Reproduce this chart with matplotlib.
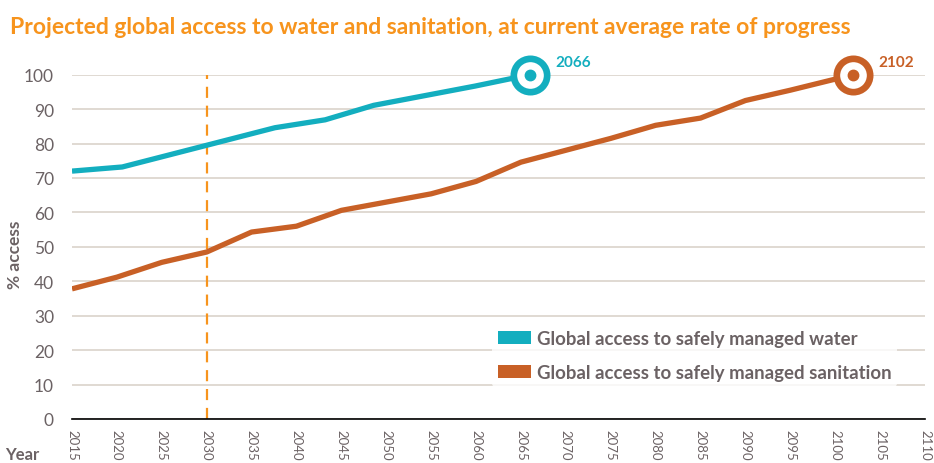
import matplotlib
matplotlib.use("Agg")
import matplotlib.pyplot as plt
from matplotlib.patches import Patch

plt.rcParams['font.family'] = ['Lato', 'DejaVu Sans']

title = "Projected global access to water and sanitation, at current average rate of progress"
water_years = [2015, 2020.6, 2037.6, 2043.2, 2048.6, 2059.9, 2066]
water_vals = [72.0, 73.2, 84.6, 86.9, 91.1, 96.7, 100]
san_years = [2015, 2020, 2025, 2030, 2035, 2040, 2045, 2055, 2060, 2065, 2075, 2080, 2085, 2090, 2095, 2102]
san_vals = [37.8, 41.2, 45.5, 48.5, 54.3, 56.0, 60.6, 65.4, 69.0, 74.6, 81.5, 85.3, 87.4, 92.5, 95.5, 100]
water_end, san_end = 2066, 2102
target_year = 2030
xticks = list(range(2015, 2111, 5))
yticks = list(range(0, 101, 10))
legend_labels = ["Global access to safely managed water", "Global access to safely managed sanitation"]

TEAL = "#13AEBF"
RUST = "#C86026"
ORANGE = "#F7941D"
GRAY = "#6B6264"
GRID = "#DDD7CF"

fig = plt.figure(figsize=(9.34, 4.64), dpi=100)
ax = fig.add_axes([72/934, 1-420/464, (925-72)/934, (420-75.7)/464])
ax.set_xlim(2015, 2110)
ax.set_ylim(0, 100)
for s in ['top', 'right', 'left']:
    ax.spines[s].set_visible(False)
ax.spines['bottom'].set_color('black')
ax.spines['bottom'].set_linewidth(1.2)
ax.set_yticks(yticks)
ax.set_xticks(xticks)
ax.set_xticklabels([str(t) for t in xticks], rotation=270, fontsize=9.5, color=GRAY)
ax.set_yticklabels([str(t) for t in yticks], fontsize=12.5, color=GRAY)
ax.tick_params(axis='both', length=0)
ax.tick_params(axis='y', pad=13)
ax.tick_params(axis='x', pad=7)
ax.yaxis.grid(True, color=GRID, linewidth=1.3)
ax.set_axisbelow(True)

ax.axvline(target_year, color=ORANGE, linewidth=1.6, linestyle=(0, (5, 3.5)), zorder=2)

ax.plot(water_years, water_vals, color=TEAL, linewidth=3.8, solid_capstyle='butt', zorder=3)
ax.plot(san_years, san_vals, color=RUST, linewidth=3.8, solid_capstyle='butt', zorder=3)

for yr, col in [(water_end, TEAL), (san_end, RUST)]:
    ax.plot([yr], [100], marker='o', markersize=24, markerfacecolor='white',
            markeredgecolor=col, markeredgewidth=4.8, clip_on=False, zorder=4)
    ax.plot([yr], [100], marker='o', markersize=7.5, color=col, clip_on=False, zorder=5)
    ax.annotate(str(yr), (yr, 100), xytext=(18, 9), textcoords='offset points',
                fontsize=11, fontweight='bold', color=col, ha='left', va='center')

handles = [Patch(facecolor=TEAL), Patch(facecolor=RUST)]
leg = ax.legend(handles, legend_labels, loc='upper left', bbox_to_anchor=(492/934, 1-325/464),
                bbox_transform=fig.transFigure, frameon=True, fontsize=13.4,
                handlelength=1.8, handleheight=0.7, handletextpad=0.3, labelspacing=0.95,
                borderpad=0.3, borderaxespad=0)
leg.get_frame().set_facecolor('white')
leg.get_frame().set_edgecolor('none')
for t in leg.get_texts():
    t.set_color(GRAY)
    t.set_fontweight('bold')

fig.text(10/934, 1-27/464, title, fontsize=16.5, fontweight='bold', color=ORANGE, ha='left', va='center')
fig.text(15/934, 1-255/464, "% access", rotation=90, fontsize=12.5, fontweight='bold', color=GRAY, ha='center', va='center')
fig.text(5/934, 1-463/464, "Year", fontsize=12, fontweight='bold', color=GRAY, ha='left', va='bottom')

fig.savefig("out.png", dpi=100)
